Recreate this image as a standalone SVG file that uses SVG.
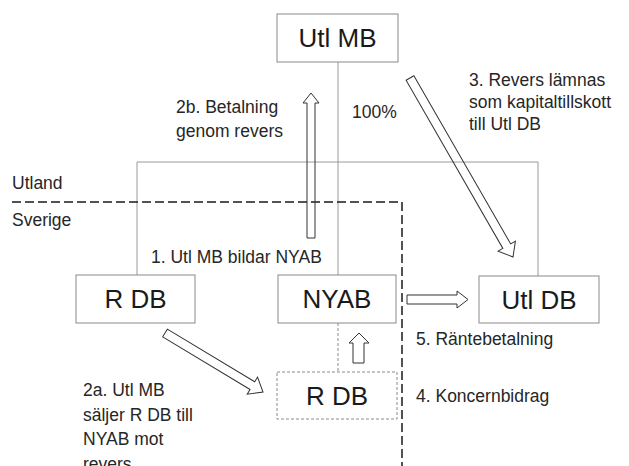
<svg xmlns="http://www.w3.org/2000/svg" width="629" height="466" viewBox="0 0 629 466">
<style>
  .box { fill: #ffffff; stroke: #8a8a8a; stroke-width: 1; }
  .dbox { fill: #ffffff; stroke: #8a8a8a; stroke-width: 1; stroke-dasharray: 3 2; }
  .big { font-family: "Liberation Sans", Arial, sans-serif; font-size: 26px; fill: #1a1a1a; text-anchor: middle; }
  .lbl { font-family: "Liberation Sans", Arial, sans-serif; font-size: 17.5px; fill: #262626; }
  .tree { stroke: #9a9a9a; stroke-width: 1; fill: none; }
  .gdash { stroke: #8a8a8a; stroke-width: 1; stroke-dasharray: 3 2; fill: none; }
  .border { stroke: #1a1a1a; stroke-width: 1.5; stroke-dasharray: 9 4; fill: none; }
  .barrow { fill: none; stroke: #333333; stroke-width: 1; stroke-linejoin: miter; }
</style>

<g id="connectors">
  <path class="tree" d="M338 62 V275"/>
  <path class="tree" d="M137 275 V162 H538 V276"/>
  <path class="gdash" d="M338 323 V372"/>
  <path class="border" d="M12 202 H402 V466"/>
  <!-- 2b up arrow -->
  <polygon class="barrow" points="307,238 307,103 303,103 311,93 319,103 315,103 315,238"/>
  <!-- 3 diagonal arrow -->
  <g transform="translate(410,78) rotate(60.08)">
    <polygon class="barrow" points="0,-4.5 194,-4.5 194,-10 206.5,0 194,10 194,4.5 0,4.5"/>
  </g>
  <!-- 2a diagonal arrow -->
  <g transform="translate(165,333) rotate(31.05)">
    <polygon class="barrow" points="0,-4.5 102,-4.5 102,-10 114.4,0 102,10 102,4.5 0,4.5"/>
  </g>
  <!-- 5 right arrow -->
  <polygon class="barrow" points="407,295 457,295 457,291 468,299.5 457,308 457,304 407,304"/>
  <!-- 4 up arrow -->
  <polygon class="barrow" points="353,363 353,343 349,343 359,333 369,343 364,343 364,363"/>
</g>

<g id="node-utl-mb">
  <rect class="box" x="277" y="14" width="121" height="48"/>
  <text class="big" x="337.5" y="47">Utl MB</text>
</g>
<g id="node-r-db">
  <rect class="box" x="76" y="275" width="119" height="48"/>
  <text class="big" x="135.5" y="308">R DB</text>
</g>
<g id="node-nyab">
  <rect class="box" x="278" y="275" width="118" height="48"/>
  <text class="big" x="337" y="308">NYAB</text>
</g>
<g id="node-utl-db">
  <rect class="box" x="479" y="276" width="120" height="47"/>
  <text class="big" x="539" y="309">Utl DB</text>
</g>
<g id="node-r-db-2">
  <rect class="dbox" x="277" y="372" width="120" height="47"/>
  <text class="big" x="337" y="405">R DB</text>
</g>

<g id="labels">
  <text class="lbl" x="176" y="113">2b. Betalning</text>
  <text class="lbl" x="176" y="137">genom revers</text>
  <text class="lbl" x="352" y="118">100%</text>
  <text class="lbl" x="469" y="86">3. Revers lämnas</text>
  <text class="lbl" x="469" y="108">som kapitaltillskott</text>
  <text class="lbl" x="469" y="130">till Utl DB</text>
  <text class="lbl" x="12" y="189">Utland</text>
  <text class="lbl" x="12" y="226">Sverige</text>
  <text class="lbl" x="151" y="263">1. Utl MB bildar NYAB</text>
  <text class="lbl" x="416" y="345">5. Räntebetalning</text>
  <text class="lbl" x="416" y="402">4. Koncernbidrag</text>
  <text class="lbl" x="83" y="396">2a. Utl MB</text>
  <text class="lbl" x="83" y="420.5">säljer R DB till</text>
  <text class="lbl" x="83" y="445">NYAB mot</text>
  <text class="lbl" x="83" y="469.5">revers</text>
</g>
</svg>
